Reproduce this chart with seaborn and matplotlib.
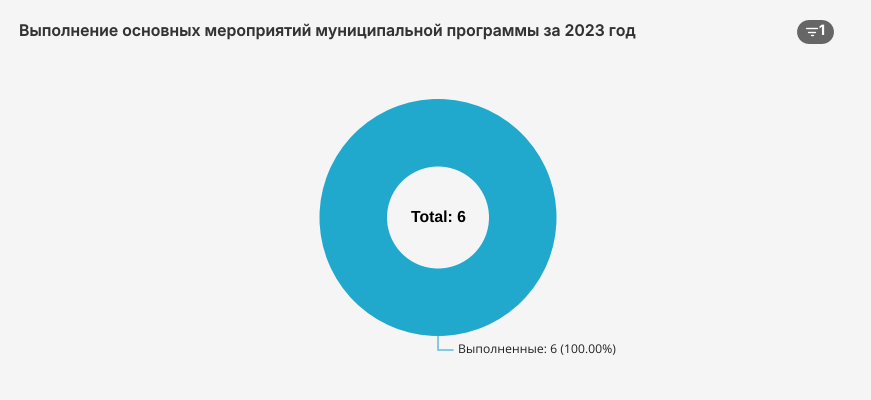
import matplotlib
matplotlib.use("Agg")
import matplotlib.pyplot as plt
import seaborn as sns

# data
categories = ["Выполненные"]
values = [6]
title = "Выполнение основных мероприятий муниципальной программы за 2023 год"
filter_count = "1"

W, H = 871, 400
BG = "#f5f5f5"

sns.set_theme(style="white")
plt.rcParams["text.hinting"] = "no_hinting"
colors = sns.color_palette(["#20a9cd"])

fig = plt.figure(figsize=(W / 100, H / 100), dpi=100, facecolor=BG)

# overlay in pixel coordinates for the title, pill and leader line
over = fig.add_axes([0, 0, 1, 1])
over.set_xlim(0, W)
over.set_ylim(H, 0)
over.axis("off")

# donut, placed by pixels: center (438, 217.5), radius 118.5
cx, cy, r = 438, 217.5, 118.5
ax = fig.add_axes([(cx - r) / W, 1 - (cy + r) / H, 2 * r / W, 2 * r / H])
ax.pie(values, colors=colors, radius=1, startangle=90,
       wedgeprops=dict(width=1 - 51 / r, linewidth=0))
ax.set_xlim(-1, 1)
ax.set_ylim(-1, 1)
ax.set_aspect("equal")
ax.text(0.005, 0, f"Total: {sum(values)}", ha="center", va="center", fontsize=11.3,
        fontweight="bold", family="Liberation Sans", color="black")

over.text(19, 31.5, title, ha="left", va="center", fontsize=11.4, fontweight="semibold",
          family="Inter", color="#333333")

# filter pill, a thick line with round ends (24 px high)
over.plot([809, 822], [32, 32], color="#666666", lw=24 * 0.72, solid_capstyle="round")
over.plot([806, 817], [28, 28], color="white", lw=1)
over.plot([808, 815], [31.5, 31.5], color="white", lw=1)
over.plot([810.5, 812.5], [35, 35], color="white", lw=1)
over.text(821.5, 31.5, filter_count, ha="center", va="center", fontsize=10, fontweight="bold",
          family="Inter", color="white")

# leader line and label
over.plot([438, 438, 453], [336, 350, 350], color="#6cc3dc", lw=1.2, solid_joinstyle="miter")
pct = values[0] / sum(values) * 100
over.text(458, 350, f"{categories[0]}: {values[0]} ({pct:.2f}%)", ha="left", va="center",
          fontsize=8.86, family="Open Sans", color="#222222")

fig.savefig("out.png", dpi=100, facecolor=BG)
